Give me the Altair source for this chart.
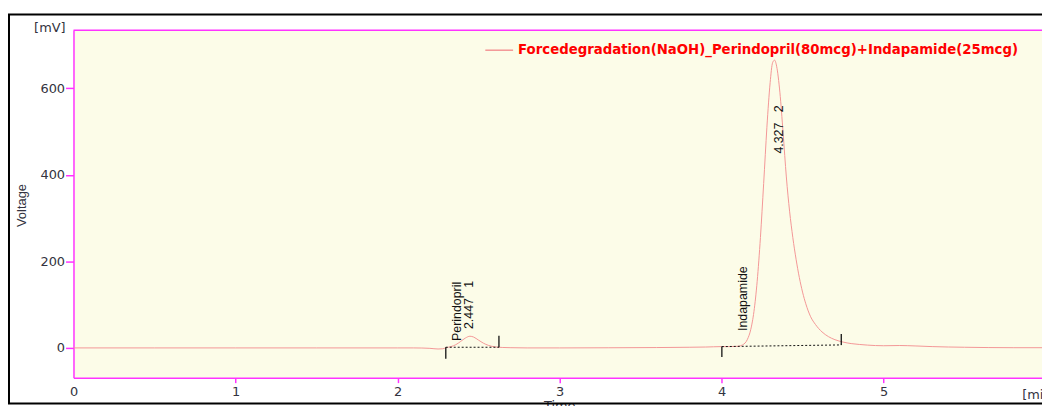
import altair as alt
import pandas as pd

series_name = "Forcedegradation(NaOH)_Perindopril(80mcg)+Indapamide(25mcg)"

# chromatogram trace (time in min, signal in mV)
time_min = [0.0, 0.5, 1.0, 1.5, 2.0, 2.1, 2.2, 2.25, 2.28, 2.30, 2.33, 2.36, 2.39, 2.42,
            2.447, 2.47, 2.50, 2.53, 2.56, 2.60, 2.65, 2.70, 2.8, 3.0, 3.3, 3.6, 3.8, 3.9,
            4.00, 4.05, 4.10, 4.13, 4.16, 4.18, 4.20, 4.22, 4.24, 4.26, 4.28, 4.30, 4.315,
            4.327, 4.34, 4.36, 4.38, 4.40, 4.42, 4.44, 4.46, 4.48, 4.50, 4.52, 4.55, 4.58,
            4.62, 4.66, 4.70, 4.75, 4.80, 4.85, 4.90, 5.00, 5.10, 5.20, 5.30, 5.50, 5.80, 6.00]
voltage_mv = [0, 0, 0, 0, 0, 0, -1, -2.5, -2, 0.5, 3, 7.5, 15, 23,
              27, 25, 18, 11, 6, 2.5, 1, 0.5, 0, 0, 0.3, 0.8, 1.5, 2,
              3, 3, 3.7, 7, 20, 42, 84, 154, 255, 380, 510, 613, 659,
              665, 651, 591, 497, 395, 316, 255, 205, 163, 129, 102, 72, 54,
              37, 26, 19, 13.5, 10, 8, 6.5, 5, 5.5, 4.5, 3, 1.5, 0.5, 0.5]

# peak annotations (rotated text)
ann_labels = ["Perindopril", "2.447\u00a0\u00a0\u00a01", "Indapamide", "4.327\u00a0\u00a0\u00a02"]
ann_time = [2.367, 2.442, 4.131, 4.352]
ann_volt = [16, 43.6, 39, 449]

# integration markers
mark_time = [2.298, 2.626, 4.002, 4.739]
mark_v1 = [1.5, 1.5, 3.0, 6.9]
mark_v2 = [-25.2, 28.2, -21.3, 32.1]

# integration baselines
base_t1 = [2.298, 4.002]
base_t2 = [2.626, 4.739]
base_v1 = [1.5, 3.0]
base_v2 = [1.5, 6.9]

x_ticks = [0, 1, 2, 3, 4, 5]
y_ticks = [0, 200, 400, 600]

trace = pd.DataFrame({"t": time_min, "v": voltage_mv, "s": [series_name] * len(time_min)})
ann = pd.DataFrame({"t": ann_time, "v": ann_volt, "label": ann_labels})
marks = pd.DataFrame({"t": mark_time, "v1": mark_v1, "v2": mark_v2})
bases = pd.DataFrame({"t1": base_t1, "t2": base_t2, "v1": base_v1, "v2": base_v2})

MAG = "#ff33ff"
TXT = "#333340"
W = 976
H = 350
xs = alt.Scale(domain=[0, 5.978], nice=False, zero=False)
ys = alt.Scale(domain=[-68.8, 733.8], nice=False, zero=False)

x_axis = alt.Axis(
    values=x_ticks, title="Time", titleX=489.5, titleY=22, titleBaseline="top",
    titleAlign="center", titleFont="DejaVu Sans", titleFontSize=13,
    titleFontWeight="normal", titleColor=TXT,
    tickSize=5, labelPadding=3, labelFlush=False, labelOverlap=False,
    tickColor={"condition": {"test": "datum.value === 0", "value": "transparent"}, "value": MAG})
y_axis = alt.Axis(
    values=y_ticks, title="Voltage", titleX=-52.5, titleY=176, titleAngle=270,
    titleAlign="center", titleBaseline="middle", titleFont="Liberation Sans",
    titleFontSize=13, titleFontWeight="normal", titleColor=TXT,
    tickSize=8, labelPadding=1)

line = alt.Chart(trace).mark_line(strokeWidth=1, interpolate="monotone").encode(
    x=alt.X("t:Q", scale=xs, axis=x_axis),
    y=alt.Y("v:Q", scale=ys, axis=y_axis),
    color=alt.Color("s:N", scale=alt.Scale(domain=[series_name], range=["#f39696"]),
                    legend=alt.Legend(
                        title=None, orient="none", legendX=414, legendY=5, padding=0,
                        symbolType="stroke", symbolSize=784, symbolStrokeWidth=1.5,
                        labelFont="DejaVu Sans", labelFontWeight="bold", labelFontSize=13.4,
                        labelColor="#ff0000", labelLimit=0, labelOffset=4)),
)

annot = alt.Chart(ann).mark_text(angle=270, align="left", baseline="middle",
                                 font="Liberation Sans", fontSize=12.5, color="#111111").encode(
    x=alt.X("t:Q", scale=xs, axis=x_axis),
    y=alt.Y("v:Q", scale=ys, axis=y_axis),
    text="label:N",
)

ticks = alt.Chart(marks).mark_rule(color="#111111", strokeWidth=1.3).encode(
    x=alt.X("t:Q", scale=xs, axis=x_axis),
    y=alt.Y("v1:Q", scale=ys, axis=y_axis),
    y2="v2:Q",
)

baselines = alt.Chart(bases).mark_rule(color="#111111", strokeWidth=1, strokeDash=[2, 2]).encode(
    x=alt.X("t1:Q", scale=xs, axis=x_axis),
    x2="t2:Q",
    y=alt.Y("v1:Q", scale=ys, axis=y_axis),
    y2="v2:Q",
)

unit_y = alt.Chart(alt.Data(values=[{}])).mark_text(
    text="[mV]", align="right", baseline="middle", font="DejaVu Sans", fontSize=13,
    color=TXT).encode(x=alt.value(-8), y=alt.value(-2.5))

unit_x = alt.Chart(alt.Data(values=[{}])).mark_text(
    text="[min]", align="left", baseline="middle", font="DejaVu Sans", fontSize=13,
    color=TXT).encode(x=alt.value(956), y=alt.value(367))

top_border = alt.Chart(alt.Data(values=[{}])).mark_rule(color=MAG, strokeWidth=1.5).encode(
    x=alt.value(0), x2=alt.value(W + 5), y=alt.value(0))

frame = alt.Chart(alt.Data(values=[{}])).mark_rect(
    fillOpacity=0, stroke="black", strokeWidth=2).encode(
    x=alt.value(-65), x2=alt.value(1100), y=alt.value(-16), y2=alt.value(376))

chart = alt.layer(line, baselines, ticks, annot, unit_y, unit_x, top_border, frame).properties(
    width=W, height=H,
    padding={"left": 66, "top": 21, "right": 0, "bottom": 27},
    autosize=alt.AutoSizeParams(type="none"),
).configure(background="white").configure_view(
    fill="#fcfce8", stroke=None
).configure_axis(
    grid=False, domainColor=MAG, domainWidth=1.5, tickColor=MAG, tickWidth=1.5,
    labelFont="DejaVu Sans", labelFontSize=13, labelColor=TXT,
)

chart.save("out.html", embed_options={"renderer": "svg", "actions": False})
